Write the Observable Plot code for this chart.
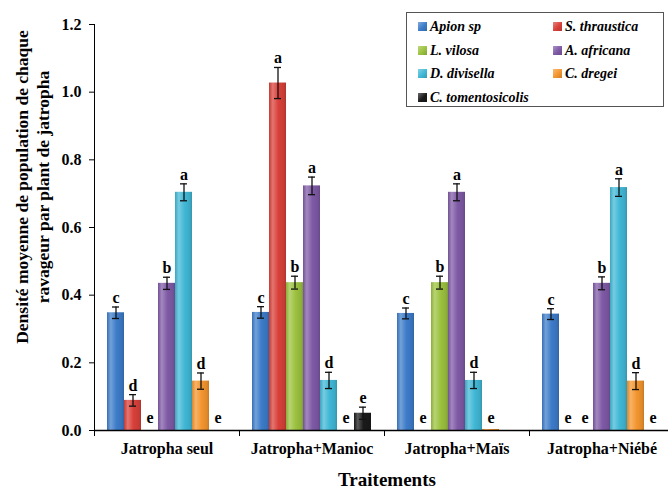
<!DOCTYPE html>
<html>
<head>
<meta charset="utf-8">
<script src="https://cdn.jsdelivr.net/npm/d3@7"></script>
<script src="https://cdn.jsdelivr.net/npm/@observablehq/plot@0.6"></script>
<style>
  html, body { margin: 0; padding: 0; background: #fff; }
  #wrap { position: relative; width: 668px; height: 489px; overflow: hidden; }
  #chart svg, #chart svg text { font-family: 'Liberation Serif', 'Times New Roman', 'DejaVu Serif', serif !important; }
  #legend { position: absolute; left: 406px; top: 12px; width: 258px; height: 95px;
    border: 1px solid #555; background: #fff; box-sizing: border-box;
    font-family: 'Liberation Serif', 'Times New Roman', 'DejaVu Serif', serif; font-weight: bold; font-style: italic; font-size: 14px; }
  .li { position: absolute; white-space: nowrap; line-height: 16px; }
  .sw { display: inline-block; width: 9px; height: 9px; margin-right: 3px; vertical-align: 0px; }
</style>
</head>
<body>
<div id="wrap">
  <div id="chart"></div>
  <div id="legend"></div>
</div>
<script>
const groups = ["Jatropha seul", "Jatropha+Manioc", "Jatropha+Maïs", "Jatropha+Niébé"];
const series = ["Apion sp", "S. thraustica", "L. vilosa", "A. africana", "D. divisella", "C. dregei", "C. tomentosicolis"];
const colors = ["#3d7cc9", "#d9403a", "#9cc23f", "#7f5aa6", "#41b8d6", "#f4962f", "#1a1a1a"];

const apion          = [0.348, 0.349, 0.346, 0.344];
const thraustica     = [0.089, 1.027, 0, 0];
const vilosa         = [0, 0.437, 0.437, 0];
const africana       = [0.435, 0.723, 0.704, 0.435];
const divisella      = [0.704, 0.148, 0.148, 0.718];
const dregei         = [0.146, 0, 0.003, 0.146];
const tomentosicolis = [0, 0.051, null, 0];

const apionErr          = [0.017, 0.017, 0.016, 0.016];
const thrausticaErr     = [0.017, 0.046, 0, 0];
const vilosaErr         = [0, 0.019, 0.019, 0];
const africanaErr       = [0.018, 0.026, 0.025, 0.019];
const divisellaErr      = [0.025, 0.024, 0.024, 0.026];
const dregeiErr         = [0.024, 0, 0.002, 0.025];
const tomentosicolisErr = [0, 0.018, null, 0];

const apionLet          = ["c", "c", "c", "c"];
const thrausticaLet     = ["d", "a", "e", "e"];
const vilosaLet         = ["e", "b", "b", "e"];
const africanaLet       = ["b", "a", "a", "b"];
const divisellaLet      = ["a", "d", "d", "a"];
const dregeiLet         = ["d", "e", "e", "d"];
const tomentosicolisLet = ["e", "e", null, "e"];

const yTicks = [0, 0.2, 0.4, 0.6, 0.8, 1.0, 1.2];

const values  = [apion, thraustica, vilosa, africana, divisella, dregei, tomentosicolis];
const errs    = [apionErr, thrausticaErr, vilosaErr, africanaErr, divisellaErr, dregeiErr, tomentosicolisErr];
const letters = [apionLet, thrausticaLet, vilosaLet, africanaLet, divisellaLet, dregeiLet, tomentosicolisLet];

const data = [];
groups.forEach((g, i) => series.forEach((s, k) => {
  const v = values[k][i];
  if (v == null) return;
  data.push({group: g, series: s, value: v, err: errs[k][i], letter: letters[k][i],
             lo: v - errs[k][i], hi: v + errs[k][i]});
}));
const nonzero = data.filter(d => d.value >= 0.01);
const zero = data.filter(d => d.value < 0.01 && d.letter);
const withErr = data.filter(d => d.err > 0.005);

const gradIds = series.map((s, k) => "grad" + k);
const serifFont = "'Liberation Serif', 'Times New Roman', 'DejaVu Serif', serif";

const svg = Plot.plot({
  width: 668,
  height: 489,
  marginLeft: 93,
  marginRight: -7,
  marginTop: 24,
  marginBottom: 59,
  style: {fontFamily: serifFont, fontWeight: "bold", fontSize: "16px", color: "#000", background: "#fff"},
  fx: {domain: groups, padding: 0, label: null, tickSize: 0, tickPadding: 12, axis: "bottom"},
  x: {domain: series, paddingInner: 0, paddingOuter: 0.68, axis: null},
  y: {domain: [0, 1.2], ticks: yTicks, tickFormat: d3.format(".1f"), tickSize: 5, tickPadding: 8, line: true, label: null},
  color: {domain: series, range: gradIds.map(id => `url(#${id})`)},
  marks: [
    Plot.barY(data, {fx: "group", x: "series", y: "value", fill: "series"}),
    Plot.ruleX(withErr, {fx: "group", x: "series", y1: "lo", y2: "hi", stroke: "#111", strokeWidth: 1.3}),
    Plot.tickY(withErr, {fx: "group", x: "series", y: "lo", stroke: "#111", strokeWidth: 1.3, insetLeft: 5, insetRight: 5}),
    Plot.tickY(withErr, {fx: "group", x: "series", y: "hi", stroke: "#111", strokeWidth: 1.3, insetLeft: 5, insetRight: 5}),
    Plot.text(nonzero, {fx: "group", x: "series", y: "hi", text: "letter", lineAnchor: "bottom", dy: -4, fontSize: 16, fontWeight: "bold", fill: "#000"}),
    Plot.text(zero, {fx: "group", x: "series", y: 0, text: "letter", lineAnchor: "bottom", dy: -8, fontSize: 16, fontWeight: "bold", fill: "#000"}),
    Plot.ruleY([0], {stroke: "#000", strokeWidth: 1.3}),
    Plot.frame({anchor: "left", insetTop: 406, insetBottom: -5, stroke: "#000"})
  ]
});

// gradient defs for the 3D-like bars
const defs = d3.create("svg:defs");
colors.forEach((c, k) => {
  const base = d3.color(c);
  const lg = defs.append("linearGradient").attr("id", gradIds[k]).attr("x1", "0%").attr("x2", "100%").attr("y1", "0%").attr("y2", "0%");
  const light = d3.interpolateRgb(c, "#fff")(0.28);
  lg.append("stop").attr("offset", "0%").attr("stop-color", base.darker(0.3));
  lg.append("stop").attr("offset", "22%").attr("stop-color", light);
  lg.append("stop").attr("offset", "55%").attr("stop-color", c);
  lg.append("stop").attr("offset", "88%").attr("stop-color", base.darker(0.25));
  lg.append("stop").attr("offset", "100%").attr("stop-color", base.darker(0.6));
});
svg.insertBefore(defs.node(), svg.firstChild);

// axis titles
const s = d3.select(svg);
const yTitle = s.append("text")
  .attr("transform", "translate(0,187) rotate(-90)")
  .attr("text-anchor", "middle")
  .style("font-family", serifFont).style("font-weight", "bold").style("font-size", "17.5px")
  .attr("fill", "#000");
yTitle.append("tspan").attr("x", 0).attr("y", 28).text("Densité moyenne de population de chaque");
yTitle.append("tspan").attr("x", 0).attr("y", 49).text("ravageur par plant de jatropha");
s.append("text")
  .attr("x", 387).attr("y", 486)
  .attr("text-anchor", "middle")
  .style("font-family", serifFont).style("font-weight", "bold").style("font-size", "19px")
  .attr("fill", "#000")
  .text("Traitements");

document.getElementById("chart").appendChild(svg);

// legend
const legend = document.getElementById("legend");
const pos = [[11, 6], [146, 6], [11, 30], [146, 30], [11, 53], [146, 53], [11, 77]];
series.forEach((name, k) => {
  const item = document.createElement("div");
  item.className = "li";
  item.style.left = pos[k][0] + "px";
  item.style.top = pos[k][1] + "px";
  const sw = document.createElement("span");
  sw.className = "sw";
  const c = d3.color(colors[k]);
  sw.style.background = `linear-gradient(135deg, ${d3.interpolateRgb(colors[k], "#fff")(0.35)} 0%, ${colors[k]} 55%, ${c.darker(0.5)} 100%)`;
  item.appendChild(sw);
  item.appendChild(document.createTextNode(name));
  legend.appendChild(item);
});
</script>
</body>
</html>
